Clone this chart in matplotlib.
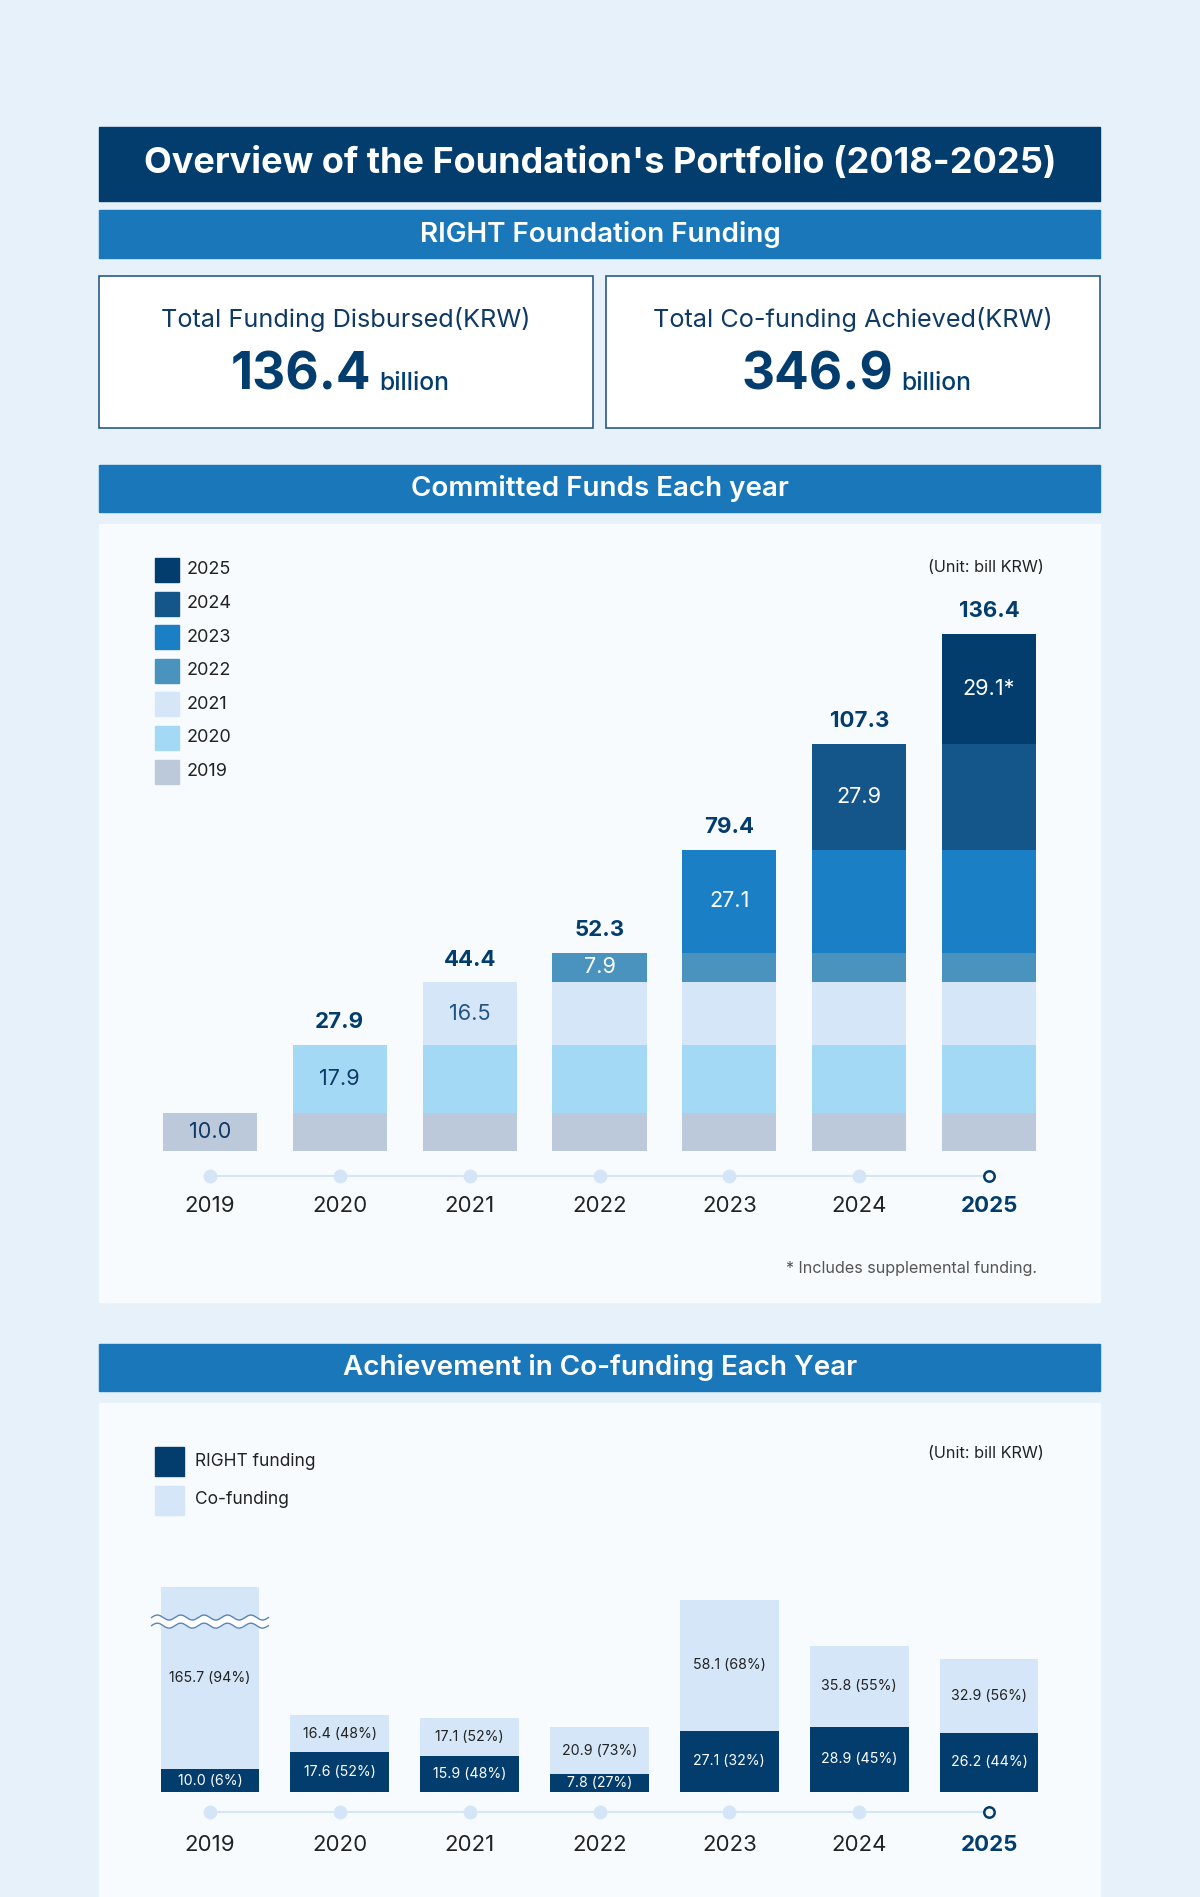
import numpy as np
import matplotlib.pyplot as plt
from matplotlib.patches import Rectangle
from matplotlib.transforms import offset_copy

plt.rcParams['font.family'] = ['Inter', 'DejaVu Sans']

# ---- data ----
years = ["2019", "2020", "2021", "2022", "2023", "2024", "2025"]
new_commit = [10.0, 17.9, 16.5, 7.9, 27.1, 27.9, 29.1]
commit_labels = ["10.0", "17.9", "16.5", "7.9", "27.1", "27.9", "29.1*"]
right_funding = [10.0, 17.6, 15.9, 7.8, 27.1, 28.9, 26.2]
co_funding = [165.7, 16.4, 17.1, 20.9, 58.1, 35.8, 32.9]
right_pct = [6, 52, 48, 27, 32, 45, 44]
co_pct = [94, 48, 52, 73, 68, 55, 56]
total_disbursed = "136.4"
total_cofunding = "346.9"

# colours
BG = "#E7F1FA"
PANEL = "#F8FBFE"
NAVY = "#023D6E"
MID = "#1A78BA"
TXT = "#0F3A66"
layer_colors = ["#BCC9DB", "#A3D9F5", "#D4E6F7", "#4A93BE", "#1A7FC4", "#15568A", "#023D6E"]
layer_text = [TXT, TXT, "#1F5485", "white", "white", "white", "white"]
CO_COLOR = "#D4E6F7"
DOT = "#D3E5F6"

W, H = 1200, 1897
fig = plt.figure(figsize=(W / 100, H / 100), dpi=100, facecolor=BG)

# background / layout axes in pixel coords
bg = fig.add_axes([0, 0, 1, 1])
bg.set_xlim(0, W)
bg.set_ylim(H, 0)
bg.axis("off")

def band(y, h, color, text, size, weight):
    bg.add_patch(Rectangle((99, y), 1001, h, color=color, zorder=1))
    bg.text(600, y + h / 2, text, color="white", fontsize=size, fontweight=weight,
            ha="center", va="center", zorder=2)

band(127, 74, NAVY, "Overview of the Foundation's Portfolio (2018-2025)", 26, "bold")
band(210, 48, MID, "RIGHT Foundation Funding", 20, "semibold")
band(465, 47, MID, "Committed Funds Each year", 20, "semibold")
band(1344, 47, MID, "Achievement in Co-funding Each Year", 20, "semibold")

# summary boxes
for x0, title, num, nx in [(99, "Total Funding Disbursed(KRW)", total_disbursed, 371),
                           (606, "Total Co-funding Achieved(KRW)", total_cofunding, 893)]:
    bg.add_patch(Rectangle((x0, 276), 494, 152, facecolor="white", edgecolor="#2A5A88",
                           lw=1.2, zorder=1))
    bg.text(x0 + 247, 319, title, color=TXT, fontsize=18.2, ha="center", va="center")
    bg.text(nx, 390, num, color=NAVY, fontsize=37, fontweight="bold", ha="right", va="baseline")
    bg.text(nx + 8, 390, "billion", color=NAVY, fontsize=17.8, fontweight="medium",
            ha="left", va="baseline")

# chart panels
bg.add_patch(Rectangle((99, 524), 1001, 778, color=PANEL, zorder=0))
bg.add_patch(Rectangle((99, 1403), 1001, 494, color=PANEL, zorder=0))

# legend 1 (2025 on top)
for k, (yr, c) in enumerate(zip(years[::-1], layer_colors[::-1])):
    yc = 570 + k * 33.6
    bg.add_patch(Rectangle((155, yc - 12), 24, 24, color=c, zorder=2))
    bg.text(187, yc, yr, fontsize=13, color="#222222", va="center", ha="left")
bg.text(1044, 567, "(Unit: bill KRW)", fontsize=11.7, color="#222222", ha="right", va="center")
bg.text(1037, 1269, "* Includes supplemental funding.", fontsize=11.6, color="#555555",
        ha="right", va="center")

# legend 2
for yc, c, lab in [(1461, NAVY, "RIGHT funding"), (1500, CO_COLOR, "Co-funding")]:
    bg.add_patch(Rectangle((155, yc - 14.5), 29, 29, color=c, zorder=2))
    bg.text(195, yc, lab, fontsize=12.5, color="#222222", va="center", ha="left")
bg.text(1044, 1454, "(Unit: bill KRW)", fontsize=11.7, color="#222222", ha="right", va="center")

x = np.arange(len(years))

def timeline(ax, dot_off, lab_off):
    tr = offset_copy(ax.transData, fig=fig, x=0, y=-dot_off, units="points")
    ax.plot(x, np.zeros(len(x)), color=DOT, lw=1.5, transform=tr, clip_on=False, zorder=1)
    ax.plot(x[:-1], np.zeros(len(x) - 1), "o", ms=9, color=DOT, transform=tr,
            clip_on=False, zorder=2)
    ax.plot(x[-1:], [0], "o", ms=7.5, mfc="white", mec=NAVY, mew=1.8, transform=tr,
            clip_on=False, zorder=3)
    for i, yr in enumerate(years):
        last = i == len(years) - 1
        ax.annotate(yr, (i, 0), xytext=(0, -lab_off), textcoords="offset points",
                    ha="center", va="center", fontsize=16,
                    fontweight="bold" if last else "normal",
                    color=NAVY if last else "#222222", annotation_clip=False)

# ---- chart 1: committed funds, stacked by year of commitment ----
ax1 = fig.add_axes([145 / W, (H - 1150.5) / H, 909 / W, (1150.5 - 590) / H])
ax1.set_xlim(-0.5, 6.5)
ax1.set_ylim(0, (1150.5 - 590) / 3.785)
ax1.axis("off")
ax1.patch.set_alpha(0)

totals = np.cumsum(new_commit)
for layer in range(len(years)):
    xs = x[layer:]
    bottoms = np.full(len(xs), totals[layer] - new_commit[layer])
    ax1.bar(xs, new_commit[layer], bottom=bottoms, width=0.725, color=layer_colors[layer],
            linewidth=0, zorder=2)
    ax1.text(layer, totals[layer] - new_commit[layer] / 2, commit_labels[layer],
             ha="center", va="center", fontsize=15.6, color=layer_text[layer], zorder=3)
    if layer > 0:
        ax1.annotate(f"{totals[layer]:.1f}", (layer, totals[layer]), xytext=(0, 16.5),
                     textcoords="offset points", ha="center", va="center", fontsize=16,
                     fontweight="bold", color=NAVY, annotation_clip=False)
timeline(ax1, 18, 40)

# ---- chart 2: co-funding achievement ----
ax2 = fig.add_axes([145 / W, (H - 1792) / H, 909 / W, (1792 - 1560) / H])
ax2.set_xlim(-0.5, 6.5)
ax2.set_ylim(0, (1792 - 1560) / 2.257)
ax2.axis("off")
ax2.patch.set_alpha(0)

BREAK_TOP = 91  # axis break height for the 2019 bar
right_arr = np.array(right_funding)
co_shown = np.minimum(np.array(co_funding), BREAK_TOP - right_arr)
ax2.bar(x, right_arr, width=0.76, color=NAVY, linewidth=0, zorder=2)
ax2.bar(x, co_shown, bottom=right_arr, width=0.76, color=CO_COLOR, linewidth=0, zorder=2)
for i in x:
    ax2.text(i, right_arr[i] / 2, f"{right_funding[i]:.1f} ({right_pct[i]}%)", ha="center",
             va="center", fontsize=10.2, color="white", zorder=3)
    ax2.text(i, right_arr[i] + co_shown[i] / 2, f"{co_funding[i]:.1f} ({co_pct[i]}%)",
             ha="center", va="center", fontsize=10.2, color="#222222", zorder=3)

# wavy break mark on the 2019 bar
wx = np.linspace(-0.45, 0.45, 200)
wy = 75.5 + 1.1 * np.sin((wx + 0.45) / 0.9 * 2 * np.pi * 5)
ax2.fill_between(wx, wy - 1.8, wy + 1.8, color="white", lw=0, zorder=4)
ax2.plot(wx, wy + 1.8, color="#5A86B5", lw=1, zorder=5)
ax2.plot(wx, wy - 1.8, color="#5A86B5", lw=1, zorder=5)
timeline(ax2, 14.5, 38)

fig.savefig("out.png", dpi=100, facecolor=BG)
